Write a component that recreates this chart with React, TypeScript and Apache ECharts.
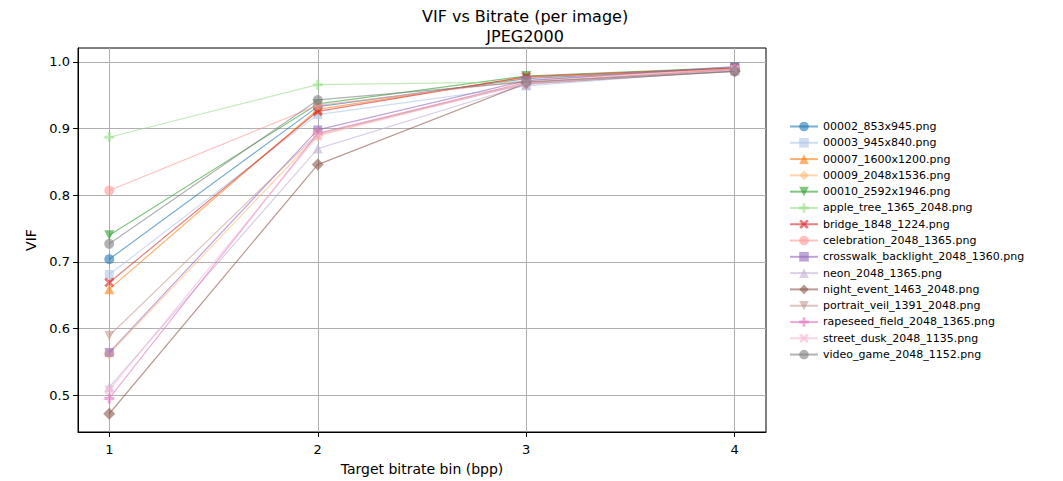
import React, { useEffect, useRef } from "react";
import * as echarts from "echarts";

// Bitrate bins (bpp) on the x axis
const bitrateBins = [1, 2, 3, 4];

const imageNames = [
  "00002_853x945.png",
  "00003_945x840.png",
  "00007_1600x1200.png",
  "00009_2048x1536.png",
  "00010_2592x1946.png",
  "apple_tree_1365_2048.png",
  "bridge_1848_1224.png",
  "celebration_2048_1365.png",
  "crosswalk_backlight_2048_1360.png",
  "neon_2048_1365.png",
  "night_event_1463_2048.png",
  "portrait_veil_1391_2048.png",
  "rapeseed_field_2048_1365.png",
  "street_dusk_2048_1135.png",
  "video_game_2048_1152.png",
];

// VIF per image at bins 1..4
const vif00002 = [0.704, 0.933, 0.975, 0.991];
const vif00003 = [0.681, 0.921, 0.964, 0.988];
const vif00007 = [0.659, 0.929, 0.977, 0.99];
const vif00009 = [0.562, 0.89, 0.97, 0.989];
const vif00010 = [0.74, 0.937, 0.979, 0.992];
const vifAppleTree = [0.887, 0.966, 0.97, 0.988];
const vifBridge = [0.669, 0.926, 0.978, 0.991];
const vifCelebration = [0.807, 0.935, 0.972, 0.99];
const vifCrosswalk = [0.564, 0.898, 0.972, 0.993];
const vifNeon = [0.512, 0.87, 0.966, 0.987];
const vifNightEvent = [0.472, 0.846, 0.968, 0.986];
const vifPortraitVeil = [0.589, 0.892, 0.967, 0.988];
const vifRapeseed = [0.495, 0.893, 0.969, 0.989];
const vifStreetDusk = [0.508, 0.889, 0.968, 0.988];
const vifVideoGame = [0.727, 0.943, 0.97, 0.986];

const vifSeries = [
  vif00002, vif00003, vif00007, vif00009, vif00010, vifAppleTree, vifBridge,
  vifCelebration, vifCrosswalk, vifNeon, vifNightEvent, vifPortraitVeil,
  vifRapeseed, vifStreetDusk, vifVideoGame,
];

const xTicks = [1, 2, 3, 4];
const yTicks = [0.5, 0.6, 0.7, 0.8, 0.9, 1.0];

const palette = [
  "#1f77b4", "#aec7e8", "#ff7f0e", "#ffbb78", "#2ca02c", "#98df8a", "#d62728",
  "#ff9896", "#9467bd", "#c5b0d5", "#8c564b", "#c49c94", "#e377c2", "#f7b6d2",
  "#7f7f7f",
];

const DOWN_TRI = "path://M0,0 L10,0 L5,10 Z";
const PLUS = "path://M3.5,0 H6.5 V3.5 H10 V6.5 H6.5 V10 H3.5 V6.5 H0 V3.5 H3.5 Z";
const CROSS = "path://M2,0 L5,3 L8,0 L10,2 L7,5 L10,8 L8,10 L5,7 L2,10 L0,8 L3,5 L0,2 Z";

const markerCycle: [string, number][] = [
  ["circle", 10],
  ["rect", 9],
  ["triangle", 10],
  ["diamond", 12],
  [DOWN_TRI, 10],
  [PLUS, 10],
  [CROSS, 10],
];

const FONT = "DejaVu Sans";

export default function App() {
  const ref = useRef<HTMLDivElement>(null);

  useEffect(() => {
    document.body.style.margin = "0";
    if (!ref.current) return;
    const chart = echarts.init(ref.current, undefined, { renderer: "svg" });

    const series = vifSeries.map((vals, i) => {
      const [symbol, size] = markerCycle[i % markerCycle.length];
      const color = palette[i];
      return {
        name: imageNames[i],
        type: "line",
        data: vals.map((v, j) => [bitrateBins[j], v]),
        symbol,
        symbolSize: size,
        showAllSymbol: true,
        lineStyle: { color, width: 1.2, opacity: 0.6 },
        itemStyle: { color, opacity: 0.6 },
        emphasis: { disabled: true },
        z: 3 + i,
      };
    });

    chart.setOption({
      animation: false,
      textStyle: { fontFamily: FONT },
      graphic: [
        {
          type: "text",
          left: 422,
          top: 6,
          style: {
            text: "VIF vs Bitrate (per image)\nJPEG2000",
            font: `16px ${FONT}`,
            fill: "#000",
            textAlign: "center",
            lineHeight: 20,
          },
        },
      ],
      legend: {
        orient: "vertical",
        left: 784,
        top: 116,
        itemWidth: 28,
        itemHeight: 12,
        itemGap: 5.29,
        textStyle: { fontSize: 11, color: "#000", fontFamily: FONT },
        data: imageNames,
      },
      grid: {
        left: 78,
        right: 297,
        top: 48,
        bottom: 48,
        show: true,
        borderColor: "#000",
        borderWidth: 1,
        backgroundColor: "transparent",
      },
      xAxis: {
        type: "value",
        min: 0.85,
        max: 4.15,
        name: "Target bitrate bin (bpp)",
        nameLocation: "middle",
        nameGap: 30,
        nameTextStyle: { fontSize: 14, color: "#000", fontFamily: FONT },
        axisLine: { show: true, onZero: false, lineStyle: { color: "#000" } },
        axisTick: { show: true, length: 5, customValues: xTicks, lineStyle: { color: "#000" } },
        axisLabel: {
          customValues: xTicks,
          fontSize: 13,
          color: "#000",
          margin: 11,
          formatter: (v: number) => String(v),
        },
        splitLine: { show: true, lineStyle: { color: "#b0b0b0", width: 1 } },
      },
      yAxis: {
        type: "value",
        min: 0.4446,
        max: 1.021,
        name: "VIF",
        nameLocation: "middle",
        nameGap: 40,
        nameTextStyle: { fontSize: 14, color: "#000", fontFamily: FONT },
        axisLine: { show: true, onZero: false, lineStyle: { color: "#000" } },
        axisTick: { show: true, length: 5, customValues: yTicks, lineStyle: { color: "#000" } },
        axisLabel: {
          customValues: yTicks,
          fontSize: 13,
          color: "#000",
          margin: 8,
          formatter: (v: number) => v.toFixed(1),
        },
        splitLine: { show: true, lineStyle: { color: "#b0b0b0", width: 1 } },
      },
      series,
    });

    return () => chart.dispose();
  }, []);

  return <div ref={ref} style={{ width: 1063, height: 481 }} />;
}
